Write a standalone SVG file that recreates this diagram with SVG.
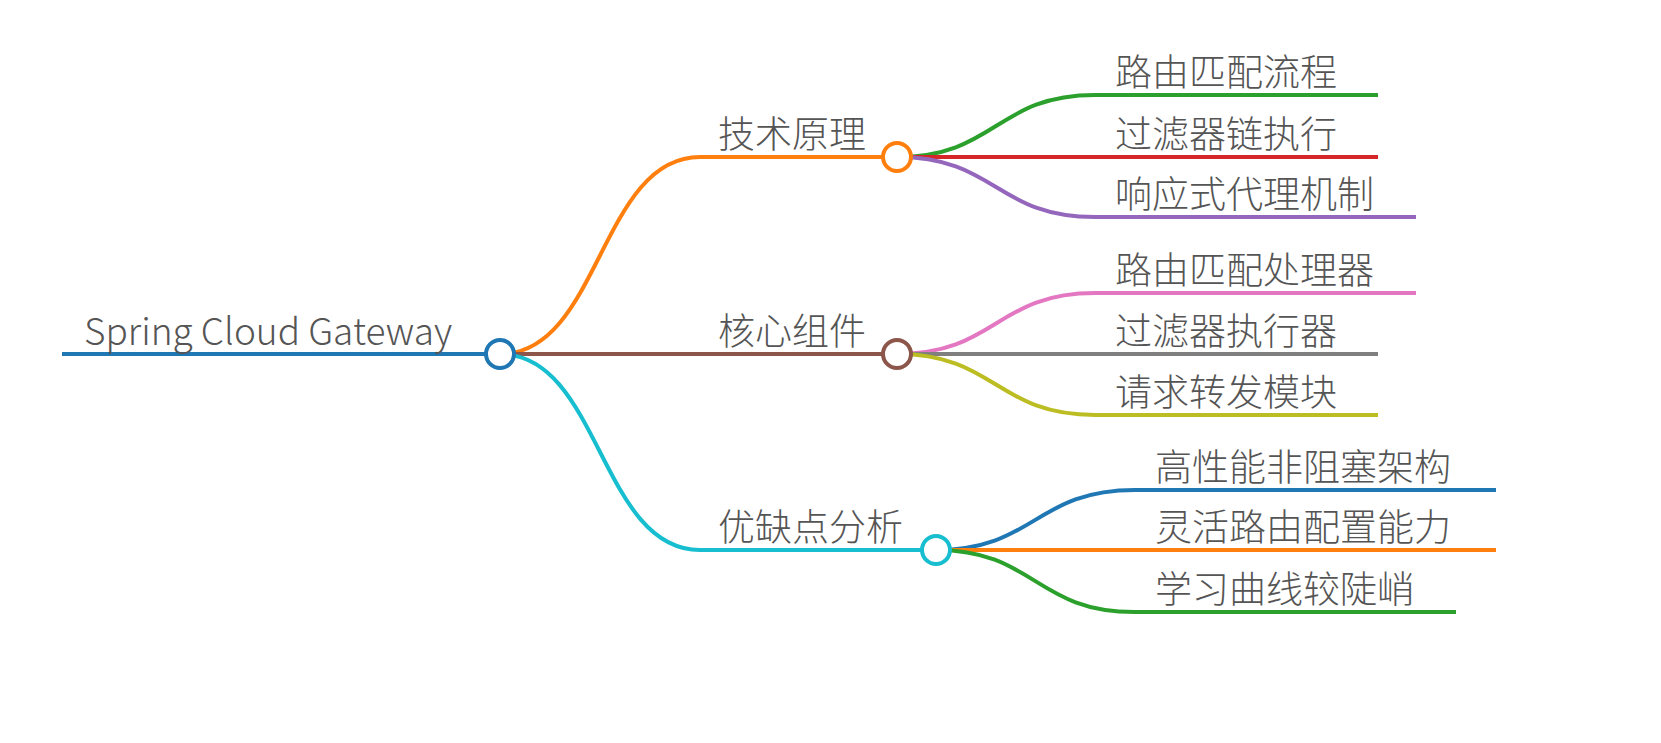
<svg xmlns="http://www.w3.org/2000/svg" width="1661" height="743" viewBox="0 0 1661 743">
<style>
text{font-family:"Noto Sans CJK SC","Noto Sans",sans-serif;font-weight:300;fill:#555;font-size:37px}
.c{fill:none;stroke-width:4}
circle{fill:#fff;stroke-width:4}
</style>
<rect width="1661" height="743" fill="#fff"/>
<g id="connectors">
<path class="c" stroke="#1f77b4" d="M62 354H500"/>
<path class="c" stroke="#ff7f0e" d="M500 354C600 354 600 157 700 157H897"/>
<path class="c" stroke="#8c564b" d="M500 354H897"/>
<path class="c" stroke="#17becf" d="M500 354C600 354 600 550 700 550H936"/>
<path class="c" stroke="#2ca02c" d="M897 157C996 157 996 95 1095 95H1378"/>
<path class="c" stroke="#d62728" d="M897 157H1378"/>
<path class="c" stroke="#9467bd" d="M897 157C996 157 996 217 1095 217H1416"/>
<path class="c" stroke="#e377c2" d="M897 354C996 354 996 293 1095 293H1416"/>
<path class="c" stroke="#7f7f7f" d="M897 354H1378"/>
<path class="c" stroke="#bcbd22" d="M897 354C996 354 996 415 1095 415H1378"/>
<path class="c" stroke="#1f77b4" d="M936 550C1035 550 1035 490 1135 490H1496"/>
<path class="c" stroke="#ff7f0e" d="M936 550H1496"/>
<path class="c" stroke="#2ca02c" d="M936 550C1035 550 1035 612 1135 612H1456"/>
</g>
<g id="root"><text x="84" y="345" font-size="36">Spring Cloud Gateway</text><circle cx="500" cy="354" r="14" stroke="#1f77b4"/></g>
<g id="n1"><text x="718" y="148">技术原理</text><circle cx="897" cy="157" r="14" stroke="#ff7f0e"/></g>
<g id="n2"><text x="718" y="345">核心组件</text><circle cx="897" cy="354" r="14" stroke="#8c564b"/></g>
<g id="n3"><text x="718" y="541">优缺点分析</text><circle cx="936" cy="550" r="14" stroke="#17becf"/></g>
<g id="l1"><text x="1115" y="86">路由匹配流程</text></g>
<g id="l2"><text x="1115" y="148">过滤器链执行</text></g>
<g id="l3"><text x="1115" y="208">响应式代理机制</text></g>
<g id="l4"><text x="1115" y="284">路由匹配处理器</text></g>
<g id="l5"><text x="1115" y="345">过滤器执行器</text></g>
<g id="l6"><text x="1115" y="406">请求转发模块</text></g>
<g id="l7"><text x="1155" y="481">高性能非阻塞架构</text></g>
<g id="l8"><text x="1155" y="541">灵活路由配置能力</text></g>
<g id="l9"><text x="1155" y="603">学习曲线较陡峭</text></g>
</svg>
